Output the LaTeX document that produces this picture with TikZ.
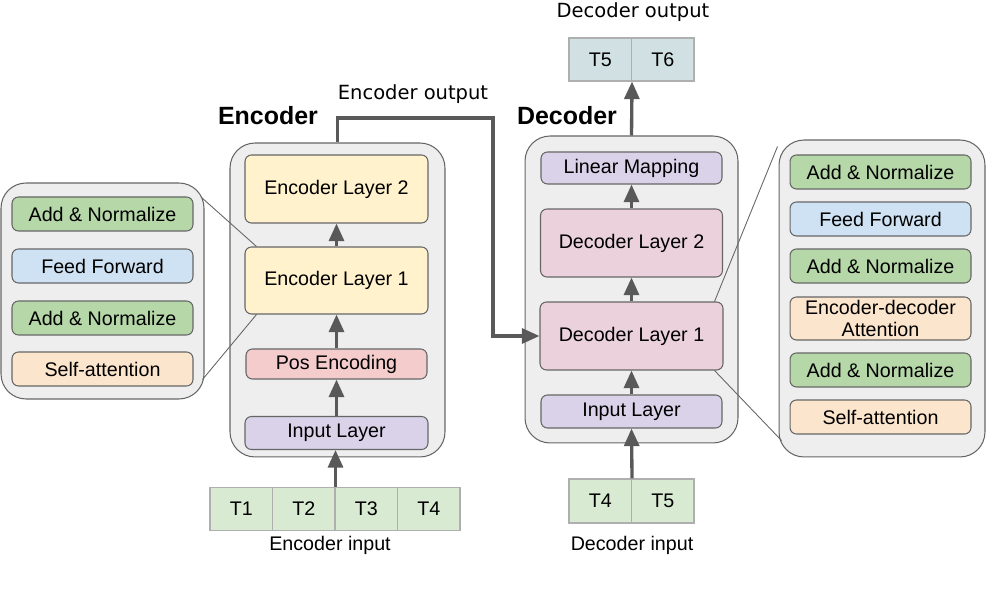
\documentclass[tikz,border=0pt]{standalone}
\usepackage{fontspec}
\setmainfont{Liberation Sans}
\newfontfamily\captfont{DejaVu Sans}
\usepackage{tikz}
\usetikzlibrary{arrows.meta, positioning}
\definecolor{griPanneau}{RGB}{238, 238, 238}
\definecolor{griTrait}{RGB}{102, 102, 102}
\definecolor{griFleche}{RGB}{89, 89, 89}
\definecolor{griJeton}{RGB}{175, 175, 175}
\definecolor{vertNorm}{RGB}{182, 215, 168}
\definecolor{bleuFF}{RGB}{207, 226, 243}
\definecolor{orangeAtt}{RGB}{252, 229, 205}
\definecolor{jauneEnc}{RGB}{255, 242, 204}
\definecolor{rosePos}{RGB}{244, 204, 204}
\definecolor{lilasIn}{RGB}{217, 210, 233}
\definecolor{roseDec}{RGB}{234, 209, 220}
\definecolor{vertJeton}{RGB}{217, 234, 211}
\definecolor{cyanJeton}{RGB}{208, 224, 227}

\begin{document}
\begin{tikzpicture}[x=0.02cm, y=-0.02cm,
  panel/.style={rectangle, rounded corners=0.5cm, draw=griTrait,
    fill=griPanneau, line width=0.6pt},
  blk/.style={rectangle, rounded corners=0.13cm, draw=griTrait,
    line width=0.6pt, align=center, inner sep=0pt,
    minimum width=3.62cm, minimum height=0.68cm,
    font=\fontsize{11.2}{12.6}\selectfont},
  tok/.style={rectangle, draw=griJeton, line width=0.6pt, inner sep=0pt,
    minimum width=1.25cm, minimum height=0.86cm,
    font=\fontsize{11.2}{12.6}\selectfont},
  titre/.style={font=\fontsize{14.2}{16}\selectfont\bfseries},
  capt/.style={font=\captfont\fontsize{11.1}{13}\selectfont},
  lbl/.style={font=\fontsize{11.2}{13}\selectfont},
  arr/.style={-{Triangle[length=10pt, width=8.5pt]}, line width=1.9pt,
    draw=griFleche},
  callout/.style={draw=griTrait, line width=0.5pt},
]
\useasboundingbox (0,0) rectangle (990,597);

\node[panel, minimum width=4.06cm, minimum height=4.32cm] (lpanel) at (102.5,291) {};
\node[blk, fill=vertNorm]  (lan2) at (102.5,214) {Add \& Normalize};
\node[blk, fill=bleuFF]    (lff)  at (102.5,266) {Feed Forward};
\node[blk, fill=vertNorm]  (lan1) at (102.5,318) {Add \& Normalize};
\node[blk, fill=orangeAtt] (lsa)  at (102.5,369) {Self-attention};

\node[titre] (enctitle) at (268,116) {Encoder};
\node[panel, minimum width=4.30cm, minimum height=6.28cm] (epanel) at (337.5,300) {};
\node[blk, fill=jauneEnc, minimum width=3.66cm, minimum height=1.36cm] (enc2) at (336.5,189) {Encoder Layer 2};
\node[blk, fill=jauneEnc, minimum width=3.66cm, minimum height=1.34cm] (enc1) at (336.5,280.5) {Encoder Layer 1};
\node[blk, fill=rosePos, minimum height=0.60cm] (pos) at (336.5,364) {Pos Encoding};
\node[blk, fill=lilasIn, minimum width=3.66cm, minimum height=0.66cm] (einp) at (336.5,433) {Input Layer};

\node[tok, fill=vertJeton] (t1) at (241.25,509) {T1};
\node[tok, fill=vertJeton] (t2) at (303.75,509) {T2};
\node[tok, fill=vertJeton] (t3) at (366.25,509) {T3};
\node[tok, fill=vertJeton] (t4) at (428.75,509) {T4};
\node[lbl] (encin) at (330,545) {Encoder input};

\draw[arr] (t2.north east) -- (t2.north east |- einp.south);
\draw[arr] (einp) -- (pos);
\draw[arr] (pos) -- (enc1);
\draw[arr] (enc1) -- (enc2);

\node[titre] (dectitle) at (567,116) {Decoder};
\node[panel, minimum width=4.26cm, minimum height=6.14cm] (dpanel) at (631.5,289.5) {};
\node[blk, fill=lilasIn, minimum height=0.64cm] (lin) at (631.5,168) {Linear Mapping};
\node[blk, fill=roseDec, minimum width=3.64cm, minimum height=1.36cm] (dec2) at (631.5,243) {Decoder Layer 2};
\node[blk, fill=roseDec, minimum width=3.66cm, minimum height=1.36cm] (dec1) at (631.5,336) {Decoder Layer 1};
\node[blk, fill=lilasIn, minimum height=0.66cm] (dinp) at (631.5,411.5) {Input Layer};

\node[capt] (encout) at (413,94) {Encoder output};
\coordinate (eobend) at (493,118);
\draw[arr] (epanel.north) |- (eobend) |- (dec1.west);

\node[tok, fill=vertJeton, minimum height=0.88cm] (d4) at (600.25,501) {T4};
\node[tok, fill=vertJeton, minimum height=0.88cm] (d5) at (662.75,501) {T5};
\node[lbl] (decin) at (632,545) {Decoder input};

\node[tok, fill=cyanJeton] (o5) at (600.25,59.5) {T5};
\node[tok, fill=cyanJeton] (o6) at (662.75,59.5) {T6};
\node[capt] (decout) at (633,12) {Decoder output};

\draw[arr] (d4.north east) -- (dinp.south);
\draw[arr] (dinp) -- (dec1);
\draw[arr] (dec1) -- (dec2);
\draw[arr] (dec2) -- (lin);
\draw[arr] (dpanel.north) -- (o5.south east);

\node[panel, minimum width=4.12cm, minimum height=6.34cm] (rpanel) at (882,298.5) {};
\node[blk, fill=vertNorm]  (ran3) at (880.5,172) {Add \& Normalize};
\node[blk, fill=bleuFF]    (rff)  at (880.5,219) {Feed Forward};
\node[blk, fill=vertNorm]  (ran2) at (880.5,266) {Add \& Normalize};
\node[blk, fill=orangeAtt, minimum height=0.86cm] (rca) at (880.5,318.5) {Encoder-decoder\\Attention};
\node[blk, fill=vertNorm]  (ran1) at (880.5,370) {Add \& Normalize};
\node[blk, fill=orangeAtt] (rsa)  at (880.5,417) {Self-attention};

\draw[callout] ([shift={(-3,15)}]lpanel.north east) -- ([shift={(12,0)}]enc1.north west);
\draw[callout] ([shift={(-2,-20)}]lpanel.south east) -- ([shift={(12,0)}]enc1.south west);
\draw[callout] ([shift={(-9,0)}]dec1.north east) -- ([shift={(-1,7)}]rpanel.north west);
\draw[callout] ([shift={(-9,0)}]dec1.south east) -- ([shift={(3,-17)}]rpanel.south west);
\end{tikzpicture}
\end{document}
